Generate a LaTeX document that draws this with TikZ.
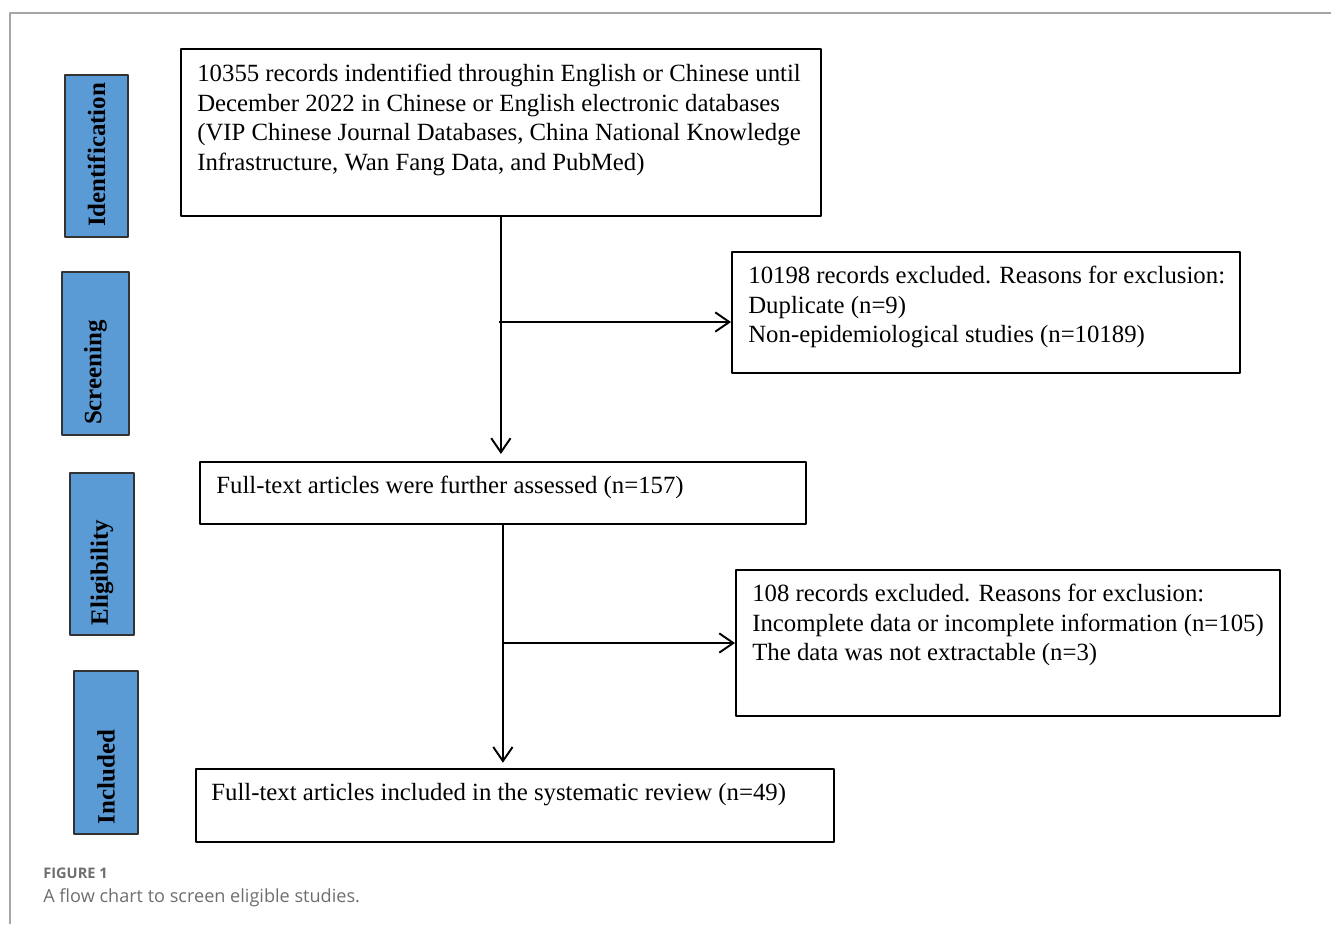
\documentclass[tikz,border=0pt]{standalone}
\usepackage{fontspec}
\setmainfont{Liberation Serif}
\newfontfamily\capfont{Open Sans}
\usetikzlibrary{arrows.meta}
\definecolor{stageblue}{HTML}{5B9BD5}
\definecolor{capgray}{HTML}{6E6E6E}
\begin{document}
\begin{tikzpicture}[x=0.02cm,y=-0.02cm,line join=round,>={Straight Barb[length=8pt,width=11pt]}]
				\tikzset{box/.style={draw,line width=1.1pt,anchor=north west,inner sep=0pt},
					txt/.style={anchor=north west,align=left,inner sep=0pt,font=\fontsize{14.1}{16.8}\selectfont},
					stage/.style={draw=black!80,fill=stageblue,line width=0.9pt,rotate=90,align=left,inner xsep=0.2cm,font=\bfseries\fontsize{14.2}{16}\selectfont},
					conn/.style={->,line width=1.1pt}}
				\useasboundingbox (0,0) rectangle (1331,924);
				\draw[line width=1pt,black!35] (1331,13)--(10,13)--(10,924);
				% stages
				\node[stage,minimum width=3.24cm,minimum height=1.26cm,text width=2.84cm] (ident) at (96.5,156) {Identification};
				\node[stage,minimum width=3.26cm,minimum height=1.34cm,text width=2.86cm] (screen) at (95.5,353.5) {Screening};
				\node[stage,minimum width=3.24cm,minimum height=1.28cm,text width=2.84cm] (elig) at (102,554) {Eligibility};
				\node[stage,minimum width=3.26cm,minimum height=1.28cm,text width=2.86cm] (incl) at (106,752.5) {Included};
				% boxes
				\node[box,minimum width=12.8cm,minimum height=3.34cm] (rec) at (180,48) {};
				\node[txt] (rect) at (197,64) {10355 records indentified throughin English or Chinese until\\December 2022 in Chinese or English electronic databases\\(VIP Chinese Journal Databases, China National Knowledge\\Infrastructure, Wan Fang Data, and PubMed)};
				\node[box,minimum width=10.16cm,minimum height=2.42cm] (exa) at (731,251) {};
				\node[txt] (exat) at (748,266) {10198 records excluded. Reasons for exclusion:\\Duplicate (n=9)\\Non-epidemiological studies (n=10189)};
				\node[box,minimum width=12.12cm,minimum height=1.24cm] (full) at (199,461) {};
				\node[txt] (fullt) at (216,476) {Full-text articles were further assessed (n=157)};
				\node[box,minimum width=10.88cm,minimum height=2.92cm] (exb) at (735,569) {};
				\node[txt] (exbt) at (752,584) {108 records excluded. Reasons for exclusion:\\Incomplete data or incomplete information (n=105)\\The data was not extractable (n=3)};
				\node[box,minimum width=12.76cm,minimum height=1.46cm] (inc) at (195,768) {};
				\node[txt] (inct) at (211,783) {Full-text articles included in the systematic review (n=49)};
				% arrows
				\coordinate (sa) at (499,322);
				\coordinate (sb) at (502,643);
				\draw[conn,shorten >=4pt] (rec.south)--(rec.south |- full.north);
				\draw[conn] (sa)--(sa -| exa.west);
				\draw[conn,shorten >=3pt] (full.south)--(full.south |- inc.north);
				\draw[conn] (sb)--(sb -| exb.west);
				% caption
				\node[anchor=north west,inner sep=0pt,text=capgray,font=\capfont\bfseries\fontsize{8.3}{10}\selectfont] (fig) at (43,868) {FIGURE 1};
				\node[anchor=north west,inner sep=0pt,text=capgray,font=\capfont\fontsize{10.3}{12}\selectfont] (cap) at (43,888) {A flow chart to screen eligible studies.};
			\end{tikzpicture}
\end{document}
